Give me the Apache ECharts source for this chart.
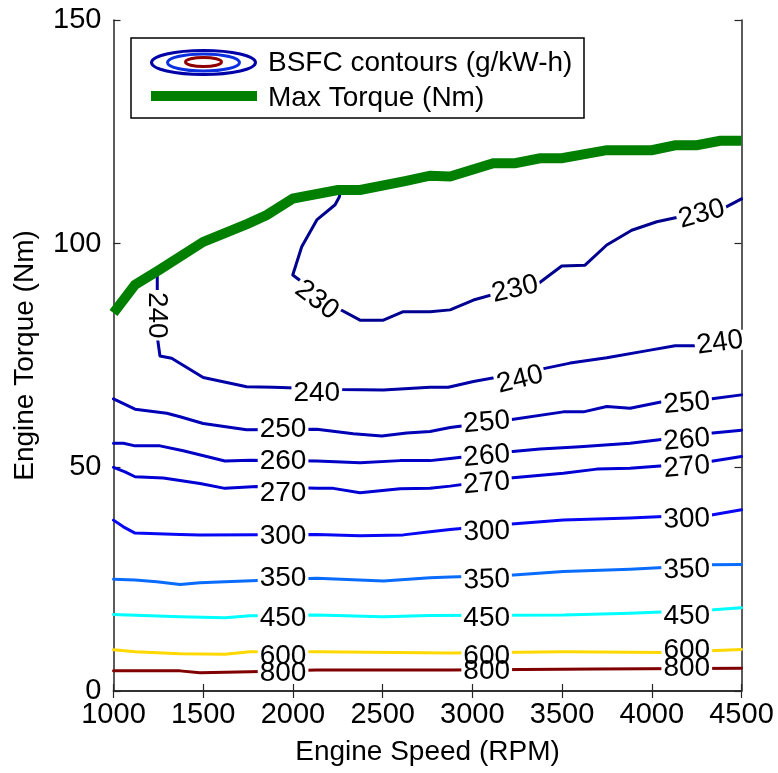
<!DOCTYPE html>
<html>
<head>
<meta charset="utf-8">
<script src="https://cdn.jsdelivr.net/npm/echarts@6/dist/echarts.min.js"></script>
<style>
html, body { margin: 0; padding: 0; background: #fff; }
#chart { width: 778px; height: 773px; }
</style>
</head>
<body>
<div id="chart"></div>
<script>
// Axis ranges and ticks
const speedTicks = [1000, 1500, 2000, 2500, 3000, 3500, 4000, 4500];
const torqueTicks = [0, 50, 100, 150];

// BSFC contour levels (g/kW-h)
const levels = [230, 240, 250, 260, 270, 300, 350, 450, 600, 800];

// Contour paths: [engine speed (RPM), torque (Nm)]
const contour230 = [[2265,112],[2259,110.5],[2235,108.7],[2133,105.3],[2049,99.3],[1999,93],[2235,85.9],[2374,82.9],[2504,82.9],[2615,84.8],[2764,84.8],[2876,85.2],[3006,87.4],[3238,90],[3359,90.8],[3498,95],[3628,95.2],[3749,99.7],[3888,103],[4028,104.9],[4158,106],[4399,107.9],[4500,110]];
const contour240 = [[1244,93],[1244,79.2],[1259,74.9],[1324,74.4],[1500,70.1],[1742,68],[1891,67.9],[2263,67.4],[2504,67.3],[2764,67.9],[2866,67.9],[3006,69.2],[3377,71.9],[3545,73.3],[3749,74.5],[3991,76.2],[4130,77.2],[4251,77.2],[4500,79.6]];
const contour250 = [[1000,65.3],[1120,63],[1297,62.1],[1371,61.3],[1500,59.8],[1742,58.4],[2133,58.5],[2337,57.5],[2495,57],[2634,57.7],[2764,58],[2876,58.9],[3201,60.6],[3507,62.4],[3619,62.4],[3749,63.6],[3879,63.2],[4065,64.7],[4325,65.3],[4500,66.2]];
const contour260 = [[1000,55.4],[1055,55.4],[1120,54.8],[1259,54.8],[1389,53.7],[1621,51.4],[1761,51.6],[2133,51.4],[2374,51],[2597,51.5],[2764,51.5],[2876,52],[3210,53.5],[3377,54.1],[3600,54.6],[3879,55.4],[4065,56.3],[4325,57.6],[4500,58.3]];
const contour270 = [[1000,50],[1064,49],[1120,47.9],[1278,47.6],[1482,46.4],[1621,45.3],[1798,45.7],[2133,45.3],[2225,45.3],[2374,44.3],[2597,45.2],[2764,45.3],[2876,45.8],[3210,47.6],[3507,48.7],[3693,49.6],[3879,49.8],[4046,50.3],[4325,51.3],[4500,52.4]];
const contour300 = [[1000,38.2],[1055,36.7],[1120,35.3],[1371,35],[1482,34.9],[2133,35],[2374,34.7],[2615,34.9],[2764,35.6],[2876,36.1],[3201,37.3],[3507,38.2],[3879,38.7],[4065,39],[4325,39.3],[4500,40.5]];
const contour350 = [[1000,25],[1120,24.8],[1241,24.4],[1371,23.8],[1482,24.2],[1621,24.4],[2133,25.2],[2504,24.6],[2764,25.3],[2876,25.5],[3210,25.9],[3507,26.7],[3879,27.2],[4065,27.6],[4325,28.2],[4500,28.3]];
const contour450 = [[1000,17.1],[1371,16.6],[1621,16.4],[1761,16.8],[2133,17],[2504,16.6],[2764,16.9],[3507,17],[3879,17.4],[4325,18.1],[4500,18.6]];
const contour600 = [[1000,9.2],[1120,8.8],[1371,8.3],[1621,8.2],[1761,8.8],[2133,8.8],[2876,8.5],[3507,8.8],[4065,8.6],[4325,9],[4500,9.3]];
const contour800 = [[1000,4.5],[1371,4.5],[1482,4.1],[1761,4.3],[2133,4.7],[2876,4.7],[3693,4.9],[4500,5.1]];

// Full-load torque curve: [engine speed (RPM), torque (Nm)]
const maxTorque = [[1000,84.5],[1120,90.8],[1250,94],[1500,100.4],[1750,104.5],[1854,106.4],[2000,110.1],[2250,112],[2375,112],[2625,114],[2764,115.2],[2876,115],[3117,118],[3238,118],[3377,119.1],[3498,119.1],[3749,120.9],[4000,120.9],[4130,122],[4251,122],[4381,123],[4500,123]];

// Inline contour label anchors: [speed, torque, text angle]
const labels230 = [[2133,87.4,-37],[3238,89.8,13],[4279,106.6,15]];
const labels240 = [[1243,84,-90],[2133,66.6,0],[3266,69.6,14],[4380,77.8,8]];
const labels250 = [[1945,58.4,0],[3080,60,5],[4195,64.3,5]];
const labels260 = [[1945,51.3,0],[3080,52.5,5],[4195,56.1,5]];
const labels270 = [[1945,44.2,0],[3080,46.4,5],[4195,50,5]];
const labels300 = [[1945,34.5,0],[3080,35.6,2],[4195,38.4,2]];
const labels350 = [[1945,25.2,0],[3080,24.8,2],[4195,27.1,2]];
const labels450 = [[1945,16.3,0],[3080,16.3,0],[4195,16.8,0]];
const labels600 = [[1945,7.8,0],[3080,7.7,0],[4195,9,0]];
const labels800 = [[1945,4,0],[3080,4.3,0],[4195,5.1,0]];

const contours = [contour230, contour240, contour250, contour260, contour270, contour300, contour350, contour450, contour600, contour800];
const labelSets = [labels230, labels240, labels250, labels260, labels270, labels300, labels350, labels450, labels600, labels800];
const lineColors = ['#00008F', '#0000A6', '#0000B6', '#0000C6', '#0000D4', '#0808F4', '#0A6CFF', '#00FFFF', '#FFD800', '#800000'];

const FONT = '"Liberation Sans", Arial, Helvetica, sans-serif';

const series = [];
contours.forEach((pts, i) => {
  series.push({
    type: 'line',
    name: 'BSFC ' + levels[i],
    data: pts,
    showSymbol: false,
    symbol: 'none',
    smooth: false,
    z: 2,
    lineStyle: { color: lineColors[i], width: 3, join: 'round', cap: 'round' }
  });
});

// Label items built from the anchors; one layer blanks the line under each label,
// the other draws the text so overlapping labels stay readable.
function labelItems() {
  const items = [];
  labelSets.forEach((set, i) => {
    set.forEach(p => {
      items.push({
        name: String(levels[i]),
        value: [p[0], p[1]],
        label: { rotate: p[2] }
      });
    });
  });
  return items;
}

series.push({
  type: 'scatter',
  name: 'label-mask',
  data: labelItems(),
  symbolSize: 1,
  itemStyle: { color: 'rgba(0,0,0,0)', opacity: 1 },
  z: 3,
  silent: true,
  label: {
    show: true,
    position: 'inside',
    formatter: p => p.name,
    fontFamily: FONT,
    fontSize: 28,
    lineHeight: 20,
    color: 'rgba(0,0,0,0)',
    opacity: 1,
    textBorderWidth: 0,
    backgroundColor: '#ffffff',
    padding: [0, 2]
  }
});
series.push({
  type: 'scatter',
  name: 'label-text',
  data: labelItems(),
  symbolSize: 1,
  itemStyle: { color: 'rgba(0,0,0,0)', opacity: 1 },
  z: 4,
  silent: true,
  label: {
    show: true,
    position: 'inside',
    formatter: p => p.name,
    fontFamily: FONT,
    fontSize: 28,
    lineHeight: 20,
    color: '#000',
    opacity: 1,
    textBorderWidth: 0,
    textBorderColor: 'transparent'
  }
});

series.push({
  type: 'line',
  name: 'Max Torque (Nm)',
  data: maxTorque,
  showSymbol: false,
  symbol: 'none',
  z: 6,
  lineStyle: { color: '#007F00', width: 10, join: 'miter' }
});

const axisCommon = {
  axisLine: { show: true, lineStyle: { color: '#262626', width: 1.5 } },
  axisTick: { show: true, inside: true, length: 7, lineStyle: { color: '#262626', width: 1.2 } },
  splitLine: { show: false }
};

const option = {
  animation: false,
  backgroundColor: '#ffffff',
  textStyle: { fontFamily: FONT },
  grid: { left: 113.5, right: 36.5, top: 20, bottom: 82, containLabel: false },
  xAxis: [
    Object.assign({
      type: 'value', position: 'bottom',
      min: speedTicks[0], max: speedTicks[speedTicks.length - 1], interval: 500,
      name: 'Engine Speed (RPM)', nameLocation: 'middle', nameGap: 47,
      nameTextStyle: { fontFamily: FONT, fontSize: 28, color: '#000' },
      axisLabel: { fontFamily: FONT, fontSize: 29, color: '#000', margin: 9, formatter: v => String(v) }
    }, axisCommon),
    Object.assign({
      type: 'value', position: 'top',
      min: speedTicks[0], max: speedTicks[speedTicks.length - 1], interval: 500,
      axisLabel: { show: false }
    }, axisCommon)
  ],
  yAxis: [
    Object.assign({
      type: 'value', position: 'left',
      min: torqueTicks[0], max: torqueTicks[torqueTicks.length - 1], interval: 50,
      name: 'Engine Torque (Nm)', nameLocation: 'middle', nameGap: 74,
      nameTextStyle: { fontFamily: FONT, fontSize: 28, color: '#000' },
      axisLabel: { fontFamily: FONT, fontSize: 29, color: '#000', margin: 12, formatter: v => String(v) }
    }, axisCommon),
    Object.assign({
      type: 'value', position: 'right',
      min: torqueTicks[0], max: torqueTicks[torqueTicks.length - 1], interval: 50,
      axisLabel: { show: false }
    }, axisCommon)
  ],
  graphic: [
    {
      type: 'group', z: 100,
      children: [
        { type: 'rect', shape: { x: 131, y: 38, width: 453, height: 80 },
          style: { fill: '#ffffff', stroke: '#000', lineWidth: 1.5 } },
        { type: 'ellipse', shape: { cx: 203.5, cy: 62.5, rx: 52, ry: 12 },
          style: { fill: 'none', stroke: '#0000A6', lineWidth: 3 } },
        { type: 'ellipse', shape: { cx: 203.5, cy: 62.5, rx: 36, ry: 8.5 },
          style: { fill: 'none', stroke: '#0A2EE0', lineWidth: 3 } },
        { type: 'ellipse', shape: { cx: 203.5, cy: 62, rx: 18, ry: 4.5 },
          style: { fill: 'none', stroke: '#8F0000', lineWidth: 3 } },
        { type: 'line', shape: { x1: 151, y1: 96, x2: 257, y2: 96 },
          style: { stroke: '#007F00', lineWidth: 10 } },
        { type: 'text', x: 268, y: 63,
          style: { text: 'BSFC contours (g/kW-h)', font: '28px ' + FONT, fill: '#000', textVerticalAlign: 'middle', verticalAlign: 'middle' } },
        { type: 'text', x: 268, y: 98,
          style: { text: 'Max Torque (Nm)', font: '28px ' + FONT, fill: '#000', textVerticalAlign: 'middle', verticalAlign: 'middle' } }
      ]
    }
  ],
  series: series
};

const chart = echarts.init(document.getElementById('chart'), null, { renderer: 'canvas' });
chart.setOption(option);
</script>
</body>
</html>
